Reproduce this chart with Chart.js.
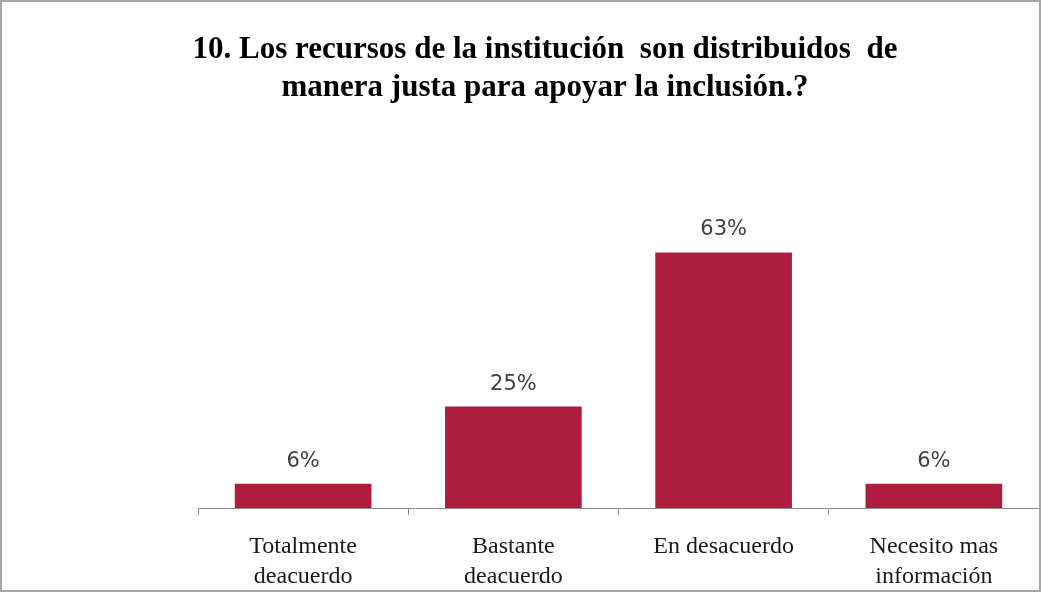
<!DOCTYPE html>
<html>
<head>
<meta charset="utf-8">
<script src="https://cdn.jsdelivr.net/npm/chart.js@4/dist/chart.umd.min.js"></script>
<style>
  html, body { margin: 0; padding: 0; background: #fff; }
  #box {
    width: 1041px; height: 592px; box-sizing: border-box;
    border: 2px solid #a6a6a6; position: relative; overflow: hidden;
  }
  #box canvas { display: block; }
</style>
</head>
<body>
<div id="box"><canvas id="ctx" width="1037" height="607"></canvas></div>
<script>
const categories = [
  ['Totalmente', 'deacuerdo'],
  ['Bastante', 'deacuerdo'],
  ['En desacuerdo'],
  ['Necesito mas', 'información'],
];
const percents = [6, 25, 63, 6];
const titleLines = [
  '10. Los recursos de la institución  son distribuidos  de',
  'manera justa para apoyar la inclusión.?',
];

// title across the whole box (chart.js would center it on the plot only)
const boxTitle = {
  id: 'boxTitle',
  afterDraw(chart) {
    const { ctx } = chart;
    ctx.save();
    ctx.font = 'bold 31px "Liberation Serif", "Times New Roman", serif';
    ctx.fillStyle = '#000';
    ctx.textAlign = 'center';
    ctx.textBaseline = 'middle';
    titleLines.forEach((line, i) => ctx.fillText(line, 543, 48 + i * 38));
    ctx.restore();
  },
};

// labels over each bar, placed from the bar elements
const barLabels = {
  id: 'barLabels',
  afterDatasetsDraw(chart) {
    const { ctx } = chart;
    const meta = chart.getDatasetMeta(0);
    ctx.save();
    ctx.font = '21px "DejaVu Sans", sans-serif';
    ctx.fillStyle = '#404040';
    ctx.textAlign = 'center';
    ctx.textBaseline = 'bottom';
    meta.data.forEach((bar, i) => {
      ctx.fillText(percents[i] + '%', bar.x, bar.y - 12);
    });
    ctx.restore();
  },
};

const rtx = document.getElementById('ctx');

const chart = new Chart(rtx, {
  type: 'bar',
  data: {
    labels: categories,
    datasets: [
      {
        data: percents,
        backgroundColor: '#ae1c40',
        borderWidth: 0,
        categoryPercentage: 1,
        barPercentage: 0.65,
      },
    ],
  },
  options: {
    responsive: false,
    animation: false,
    layout: { padding: { left: 196, right: 0, top: 222, bottom: 0 } },
    plugins: {
      legend: { display: false },
      tooltip: { enabled: false },
      title: { display: false },
    },
    scales: {
      y: {
        display: false,
        min: 0,
        max: 70,
      },
      x: {
        grid: {
          offset: true,
          drawOnChartArea: false,
          drawTicks: true,
          tickLength: 7,
          color: '#8c8c8c',
        },
        border: { display: true, color: '#8c8c8c', width: 1 },
        ticks: {
          color: '#1a1a1a',
          padding: 17,
          font: { family: '"Liberation Serif", "Times New Roman", serif', size: 24, lineHeight: 1.25 },
        },
      },
    },
  },
  plugins: [barLabels, boxTitle],
});
</script>
</body>
</html>
